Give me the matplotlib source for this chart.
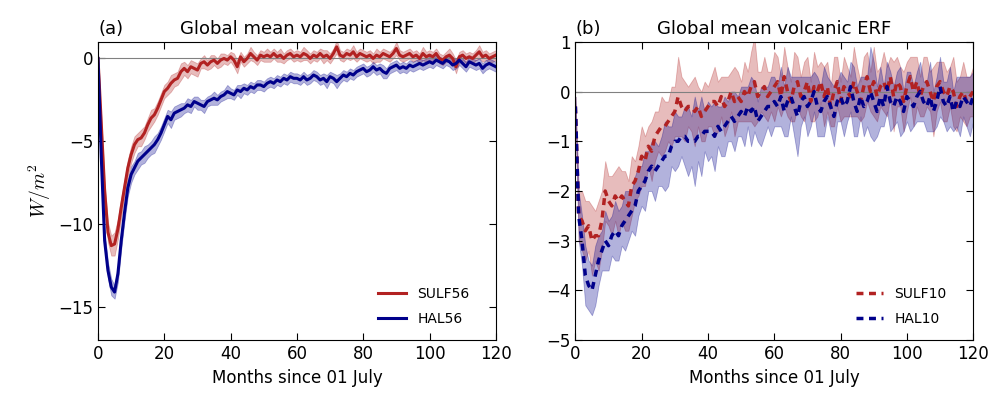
import numpy as np
import matplotlib
matplotlib.use("Agg")
import matplotlib.pyplot as plt

# monthly global-mean ERF (W/m^2), months 0..120 since 01 July
months = np.arange(121)

sulf56 = [
    0.0, -4.0, -8.0, -10.5, -11.3, -11.2, -10.3, -9.0, -7.8, -6.6,
    -5.8, -5.2, -4.9, -4.8, -4.5, -4.0, -3.6, -3.4, -3.0, -2.5,
    -2.0, -1.8, -1.5, -1.3, -1.2, -0.8, -0.6, -0.8, -0.5, -0.6,
    -0.7, -0.3, -0.2, -0.4, -0.2, -0.1, -0.3, -0.1, 0.0, -0.1,
    0.1, -0.1, -0.5, 0.1, -0.2, 0.0, 0.3, 0.1, -0.1, 0.2,
    0.1, 0.2, 0.1, 0.3, 0.1, 0.2, 0.0, 0.2, 0.3, 0.1,
    0.2, 0.1, 0.3, 0.2, 0.0, 0.2, 0.1, 0.3, 0.1, 0.2,
    0.0, 0.3, 0.7, 0.2, 0.1, 0.3, 0.2, 0.4, 0.1, 0.3,
    0.2, 0.1, 0.2, 0.0, 0.2, 0.1, 0.3, 0.2, 0.1, 0.3,
    0.6, 0.2, 0.1, 0.2, 0.3, 0.1, 0.2, 0.0, 0.3, 0.1,
    0.2, 0.1, 0.3, 0.0, -0.1, 0.1, 0.2, 0.0, -0.5, 0.1,
    0.2, 0.0, 0.1, 0.0, 0.2, 0.4, 0.1, 0.2, 0.0, 0.1,
    0.2,
]
sulf56_spread = [
    0.1, 0.4, 0.5, 0.6, 0.6, 0.7, 0.6, 0.6, 0.5, 0.5,
    0.5, 0.5, 0.4, 0.5, 0.4, 0.4, 0.5, 0.4, 0.4, 0.4,
    0.4, 0.4, 0.5, 0.4, 0.4, 0.5, 0.4, 0.4, 0.4, 0.4,
    0.4, 0.3, 0.4, 0.3, 0.4, 0.3, 0.3, 0.4, 0.3, 0.3,
    0.3, 0.4, 0.4, 0.3, 0.3, 0.3, 0.4, 0.3, 0.3, 0.3,
    0.3, 0.4, 0.3, 0.3, 0.3, 0.4, 0.3, 0.3, 0.3, 0.3,
    0.3, 0.3, 0.4, 0.3, 0.3, 0.3, 0.3, 0.3, 0.4, 0.3,
    0.3, 0.3, 0.4, 0.3, 0.3, 0.3, 0.3, 0.4, 0.3, 0.3,
    0.3, 0.3, 0.3, 0.3, 0.4, 0.3, 0.3, 0.3, 0.3, 0.3,
    0.4, 0.3, 0.3, 0.3, 0.3, 0.3, 0.3, 0.3, 0.4, 0.3,
    0.3, 0.3, 0.3, 0.3, 0.3, 0.3, 0.4, 0.3, 0.4, 0.3,
    0.3, 0.3, 0.3, 0.3, 0.3, 0.4, 0.3, 0.3, 0.3, 0.3,
    0.3,
]
hal56 = [
    0.0, -6.0, -11.0, -12.8, -13.8, -14.1, -13.0, -11.0, -9.3, -7.8,
    -7.0, -6.6, -6.2, -6.0, -5.8, -5.6, -5.4, -5.2, -4.9, -4.5,
    -4.0, -3.5, -3.7, -3.3, -3.2, -3.1, -3.0, -2.8, -2.9, -2.6,
    -2.7, -2.8, -2.9, -2.6, -2.5, -2.4, -2.5, -2.3, -2.2, -2.0,
    -2.1, -2.2, -1.9, -2.0, -1.8, -1.9, -1.7, -1.8, -1.6, -1.6,
    -1.7, -1.5, -1.4, -1.5, -1.3, -1.4, -1.2, -1.3, -1.1, -1.2,
    -1.2, -1.3, -1.1, -1.3, -1.2, -1.0, -1.1, -1.3, -1.2, -1.4,
    -1.1, -1.2, -1.4, -1.2, -1.0, -1.1, -0.9, -1.0, -0.8, -0.7,
    -0.6, -0.8, -0.7, -0.5, -0.7, -0.6, -0.8, -0.9, -0.6, -0.5,
    -0.4, -0.6, -0.5, -0.6, -0.4, -0.5, -0.4, -0.3, -0.4, -0.3,
    -0.2, -0.3, -0.1, -0.2, -0.3, -0.1, -0.2, -0.4, -0.3, -0.1,
    -0.3, -0.5, -0.2, -0.3, -0.4, -0.3, -0.6, -0.4, -0.3, -0.4,
    -0.5,
]
hal56_spread = [
    0.1, 0.4, 0.5, 0.5, 0.5, 0.4, 0.5, 0.5, 0.5, 0.5,
    0.5, 0.4, 0.5, 0.4, 0.5, 0.4, 0.4, 0.5, 0.4, 0.4,
    0.4, 0.4, 0.5, 0.4, 0.4, 0.4, 0.3, 0.4, 0.4, 0.3,
    0.4, 0.3, 0.4, 0.3, 0.3, 0.4, 0.3, 0.3, 0.3, 0.4,
    0.3, 0.3, 0.3, 0.4, 0.3, 0.3, 0.3, 0.3, 0.3, 0.3,
    0.3, 0.3, 0.3, 0.3, 0.3, 0.3, 0.3, 0.3, 0.3, 0.3,
    0.3, 0.3, 0.3, 0.3, 0.3, 0.3, 0.3, 0.3, 0.3, 0.4,
    0.3, 0.3, 0.4, 0.3, 0.3, 0.3, 0.3, 0.3, 0.3, 0.3,
    0.3, 0.3, 0.3, 0.3, 0.3, 0.3, 0.4, 0.3, 0.3, 0.3,
    0.3, 0.3, 0.3, 0.3, 0.3, 0.3, 0.3, 0.3, 0.3, 0.3,
    0.3, 0.3, 0.3, 0.3, 0.3, 0.3, 0.3, 0.3, 0.3, 0.3,
    0.3, 0.3, 0.3, 0.3, 0.3, 0.3, 0.3, 0.3, 0.3, 0.3,
    0.3,
]

sulf10 = [
    -0.3, -2.5, -2.6, -2.8, -2.7, -3.0, -2.9, -2.9, -2.6, -2.0,
    -2.2, -2.3, -2.1, -2.2, -2.1, -2.2, -2.3, -1.9, -1.8, -1.6,
    -1.3, -1.4, -1.1, -1.2, -0.9, -0.8, -0.7, -0.7, -0.6, -0.5,
    -0.4, -0.1, -0.3, -0.4, -0.3, -0.3, -0.4, -0.3, -0.5, -0.4,
    -0.3, -0.2, -0.2, -0.3, -0.1, -0.3, -0.2, 0.0, -0.2, -0.1,
    -0.2, 0.0, -0.1, 0.1, 0.2, -0.1, 0.0, 0.1, -0.1, 0.0,
    0.1, 0.2, -0.1, 0.3, 0.0, -0.2, 0.1, 0.2, -0.1, 0.0,
    0.2, -0.2, 0.1, 0.0, 0.2, -0.1, 0.1, -0.3, 0.0, 0.2,
    -0.2, 0.1, 0.0, -0.1, 0.2, 0.0, -0.2, 0.1, 0.3, 0.0,
    0.2, -0.1, 0.1, 0.2, 0.0, 0.3, -0.1, 0.2, 0.1, -0.2,
    0.1, 0.3, 0.0, 0.2, -0.1, 0.1, 0.2, 0.0, -0.2, 0.1,
    0.2, 0.0, -0.1, 0.1, 0.0, -0.3, -0.1, 0.0, -0.2, -0.1,
    0.0,
]
sulf10_spread = [
    0.2, 0.5, 0.6, 0.6, 0.5, 0.7, 0.5, 0.7, 0.6, 0.6,
    0.5, 0.6, 0.5, 0.7, 0.5, 0.6, 0.5, 0.6, 0.4, 0.5,
    0.6, 0.5, 0.4, 0.6, 0.5, 0.4, 0.6, 0.5, 0.4, 0.6,
    0.5, 0.8, 0.6, 0.6, 0.4, 0.5, 0.7, 0.4, 0.5, 0.6,
    0.4, 0.5, 0.7, 0.5, 0.4, 0.6, 0.5, 0.4, 0.7, 0.5,
    0.4, 0.6, 0.5, 0.7, 0.9, 0.5, 0.4, 0.6, 0.5, 0.4,
    0.7, 0.5, 0.4, 0.6, 0.5, 0.4, 0.7, 0.5, 0.4, 0.6,
    0.5, 0.4, 0.7, 0.5, 0.4, 0.6, 0.5, 0.4, 0.7, 0.5,
    0.4, 0.6, 0.5, 0.4, 0.7, 0.5, 0.4, 0.6, 0.5, 0.4,
    0.7, 0.5, 0.4, 0.6, 0.5, 0.4, 0.7, 0.5, 0.4, 0.6,
    0.5, 0.4, 0.7, 0.5, 0.4, 0.6, 0.5, 0.4, 0.7, 0.5,
    0.4, 0.6, 0.5, 0.4, 0.7, 0.5, 0.4, 0.6, 0.5, 0.4,
    0.5,
]
hal10 = [
    -0.3, -2.5, -3.0, -3.7, -3.9, -4.0, -3.7, -3.4, -3.2, -3.0,
    -3.1, -2.9, -2.8, -2.9, -2.7, -2.6, -2.5, -2.4, -2.3, -2.0,
    -1.9, -1.8, -1.6, -1.5, -1.6, -1.5, -1.4, -1.3, -1.3, -1.1,
    -1.0, -1.0, -0.9, -0.9, -1.0, -1.0, -1.0, -0.9, -0.9, -0.8,
    -0.8, -0.8, -0.9, -0.7, -0.8, -0.7, -0.6, -0.5, -0.6, -0.5,
    -0.4, -0.5, -0.3, -0.4, -0.3, -0.6, -0.5, -0.4, -0.3, -0.3,
    -0.2, -0.3, -0.1, -0.4, -0.2, -0.1, -0.3, -0.5, -0.2, -0.1,
    -0.3, -0.2, 0.0, -0.3, -0.4, -0.2, -0.1, -0.3, -0.5, -0.2,
    -0.1, -0.3, -0.2, 0.1, -0.2, -0.4, -0.1, -0.3, -0.2, 0.0,
    -0.2, -0.4, -0.1, -0.3, 0.1, -0.2, -0.3, -0.1, -0.2, -0.4,
    -0.1, -0.2, -0.3, -0.1, 0.0, -0.2, -0.3, -0.1, -0.4, -0.2,
    0.1, -0.2, -0.3, -0.1, -0.4, -0.2, -0.3, -0.1, -0.2, -0.3,
    -0.1,
]
hal10_spread = [
    0.2, 0.5, 0.5, 0.6, 0.5, 0.5, 0.6, 0.5, 0.4, 0.6,
    0.5, 0.4, 0.6, 0.5, 0.4, 0.6, 0.5, 0.4, 0.6, 0.5,
    0.4, 0.6, 0.4, 0.5, 0.6, 0.4, 0.5, 0.7, 0.6, 0.4,
    0.6, 0.5, 0.4, 0.6, 0.7, 0.5, 0.9, 0.5, 0.8, 0.4,
    0.6, 0.5, 0.7, 0.4, 0.5, 0.6, 0.4, 0.5, 0.6, 0.4,
    0.5, 0.6, 0.4, 0.7, 0.5, 0.4, 0.6, 0.5, 0.4, 0.6,
    0.5, 0.4, 0.6, 0.5, 0.7, 0.4, 0.6, 0.8, 0.5, 0.4,
    0.6, 0.5, 0.4, 0.6, 0.5, 0.7, 0.4, 0.5, 0.6, 0.4,
    0.5, 0.6, 0.4, 0.5, 0.7, 0.5, 0.4, 0.6, 0.5, 0.9,
    0.8, 0.5, 0.6, 0.4, 0.5, 0.6, 0.4, 0.5, 0.7, 0.4,
    0.5, 0.6, 0.4, 0.5, 0.6, 0.4, 0.5, 0.7, 0.4, 0.5,
    0.6, 0.4, 0.5, 0.6, 0.4, 0.5, 0.6, 0.4, 0.5, 0.6,
    0.5,
]

RED = "#b22222"
BLUE = "#00008b"

plt.rcParams["font.size"] = 12
plt.rcParams["mathtext.fontset"] = "cm"
plt.rcParams["xtick.direction"] = "in"
plt.rcParams["ytick.direction"] = "in"
plt.rcParams["xtick.top"] = True
plt.rcParams["ytick.right"] = True
plt.rcParams["xtick.major.size"] = 5
plt.rcParams["ytick.major.size"] = 5
plt.rcParams["lines.scale_dashes"] = False

fig, axes = plt.subplots(1, 2, figsize=(9.9, 3.95), dpi=100)
fig.subplots_adjust(left=0.099, right=0.983, bottom=0.139, top=0.894, wspace=0.2)


def band(ax, y, s, color, dashed, label):
    y = np.asarray(y)
    s = np.asarray(s)
    ax.fill_between(months, y - s, y + s, color=color, alpha=0.3, lw=0.6)
    if dashed:
        ax.plot(months, y, color=color, lw=2.5, dashes=(5, 4), label=label)
    else:
        ax.plot(months, y, color=color, lw=2.2, label=label)


# ---- Panel A ----
ax1 = axes[0]
ax1.axhline(0, color="grey", lw=0.8)
band(ax1, sulf56, sulf56_spread, RED, False, "SULF56")
band(ax1, hal56, hal56_spread, BLUE, False, "HAL56")
ax1.set_xlim(0, 120)
ax1.set_ylim(-17, 1)
ax1.set_yticks([0, -5, -10, -15])
ax1.set_xticks(range(0, 121, 20))
ax1.set_ylabel(r"$W/m^2$", fontsize=14)
ax1.set_xlabel("Months since 01 July")
ax1.set_title("Global mean volcanic ERF", fontsize=13)
ax1.set_title("(a)", loc="left", fontsize=13)
ax1.legend(loc="lower right", bbox_to_anchor=(0.965, 0.005), frameon=False,
           fontsize=10, labelspacing=0.8)

# ---- Panel B ----
ax2 = axes[1]
ax2.axhline(0, color="grey", lw=0.8)
band(ax2, sulf10, sulf10_spread, RED, True, "SULF10")
band(ax2, hal10, hal10_spread, BLUE, True, "HAL10")
ax2.set_xlim(0, 120)
ax2.set_ylim(-5, 1)
ax2.set_yticks([1, 0, -1, -2, -3, -4, -5])
ax2.set_xticks(range(0, 121, 20))
ax2.set_xlabel("Months since 01 July")
ax2.set_title("Global mean volcanic ERF", fontsize=13)
ax2.set_title("(b)", loc="left", fontsize=13)
ax2.legend(loc="lower right", bbox_to_anchor=(0.965, 0.005), frameon=False,
           fontsize=10, labelspacing=0.8)

plt.savefig("out.png", dpi=100)
